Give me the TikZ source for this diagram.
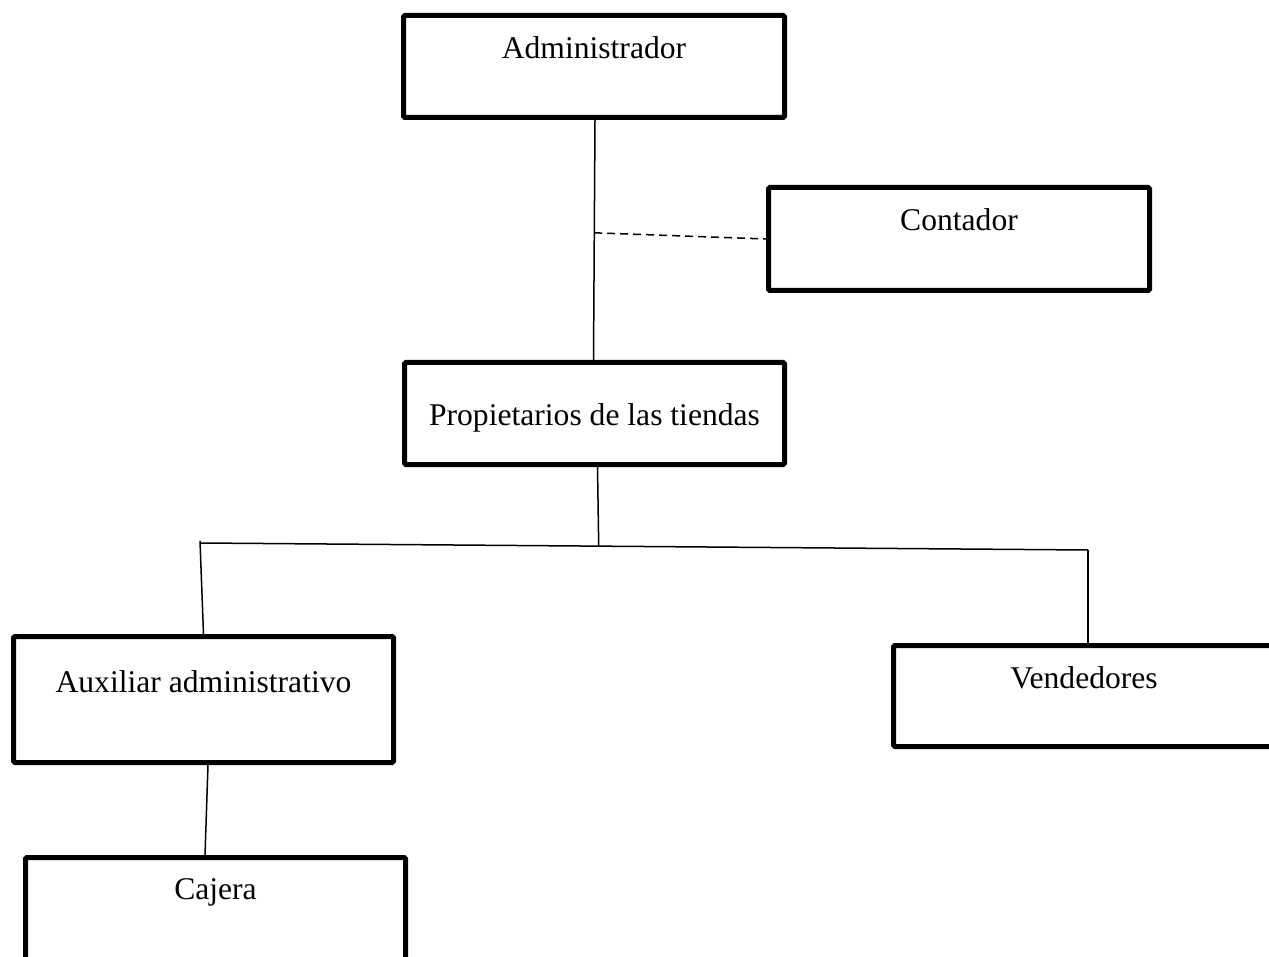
\documentclass[tikz,border=0pt]{standalone}
\usepackage{fontspec}
\setmainfont{Liberation Serif}
\usetikzlibrary{calc}
\tikzset{
  orgbox/.style={draw, line width=5pt, rounded corners=1.5pt, minimum width=#1, inner sep=0pt},
  orgbox/.default=381pt,
  conn/.style={line width=1.5pt},
  dashconn/.style={line width=1.5pt, dash pattern=on 8pt off 5pt},
  boxtext/.style={anchor=base, font=\fontsize{31.6}{38}\selectfont}
}
\begin{document}
\begin{tikzpicture}[x=1pt,y=-1pt]
\useasboundingbox (0,0) rectangle (1269,957);
\clip (0,0) rectangle (1269,957);
% boxes
\node[orgbox, minimum height=102pt,
  label={[boxtext, yshift=-46pt]north:Administrador}] (admin) at (594,66.5) {};
\node[orgbox, minimum height=103pt,
  label={[boxtext, yshift=-46pt]north:Contador}] (cont) at (959,239) {};
\node[orgbox=380pt, minimum height=102pt,
  label={[boxtext, yshift=-65pt]north:Propietarios de las tiendas}] (prop) at (594.5,413.5) {};
\node[orgbox=380pt, minimum height=126pt,
  label={[boxtext, yshift=-58pt]north:Auxiliar administrativo}] (aux) at (203.5,699.5) {};
\node[orgbox, minimum height=101pt,
  label={[boxtext, yshift=-45pt]north:Vendedores}] (vend) at (1084,696) {};
\node[orgbox=380pt, minimum height=120pt,
  label={[boxtext, yshift=-44pt]north:Cajera}] (caj) at (215.5,917.5) {};
% connectors
\draw[conn] ([xshift=1pt]admin.south) -- ([xshift=-1pt]prop.north);
\coordinate (dj) at ($(admin.south)!0.47!(prop.north)$);
\draw[dashconn] (dj) -- (cont.west);
\coordinate (hl) at (200,543);
\coordinate (hr) at (1088,550);
\coordinate (hm) at ($(hl)!0.449!(hr)$);
\draw[conn] (hl) -- (hr);
\draw[conn] ([xshift=3pt]prop.south) -- (hm);
\draw[conn] ([yshift=2pt]hl) -- (aux.north);
\draw[conn] (hr) -- (hr |- vend.north);
\draw[conn] ([xshift=4.5pt]aux.south) -- ([xshift=-10.5pt]caj.north);
\end{tikzpicture}
\end{document}
